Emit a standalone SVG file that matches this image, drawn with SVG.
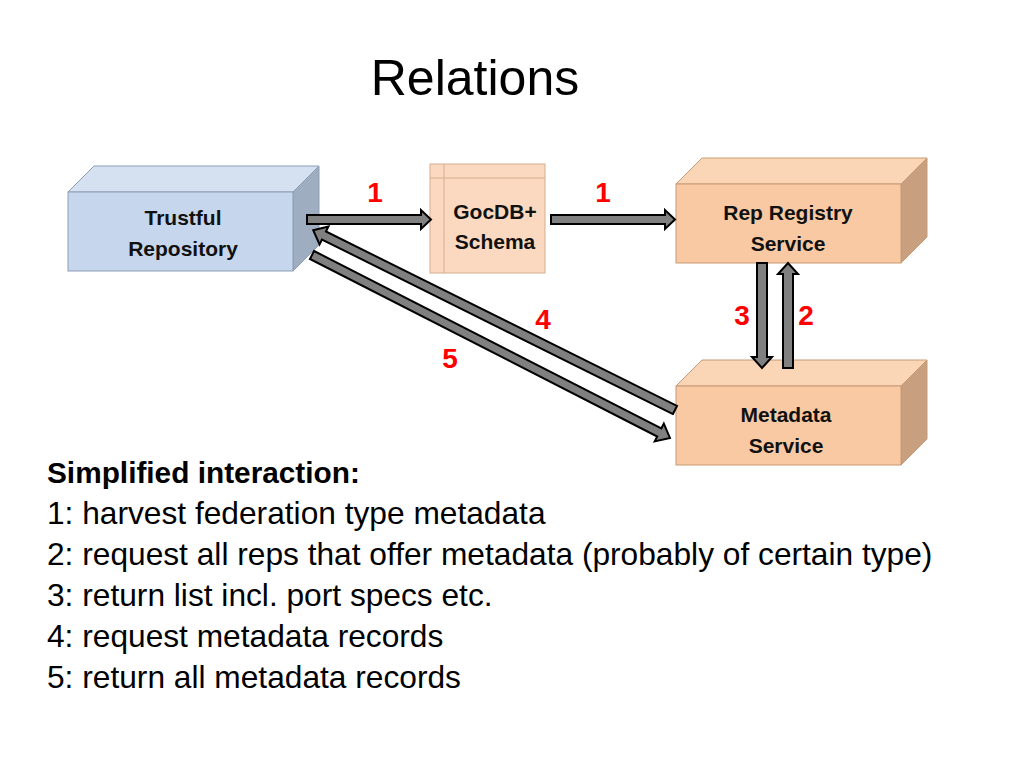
<svg xmlns="http://www.w3.org/2000/svg" width="1024" height="768" viewBox="0 0 1024 768">
<style>
.t{font-family:"Liberation Sans",Arial,sans-serif;fill:#000}
.lbl{font-family:"Liberation Sans",Arial,sans-serif;font-weight:bold;font-size:21px;text-anchor:middle;fill:#111}
.num{font-family:"Liberation Sans",Arial,sans-serif;font-weight:bold;font-size:28px;text-anchor:middle;fill:#ff0000}
.arr{fill:#808080;stroke:#000;stroke-width:2;stroke-linejoin:miter}
.bf{fill:#c6d6ec;stroke:#8d9db3;stroke-width:1}
.bt{fill:#d5e1f1;stroke:#8d9db3;stroke-width:1}
.bs{fill:#9fadc0;stroke:#8d9db3;stroke-width:1}
.pf{fill:#f8c9a2;stroke:#c79a76;stroke-width:1}
.pt{fill:#fad6b7;stroke:#c79a76;stroke-width:1}
.ps{fill:#c9a07f;stroke:#c79a76;stroke-width:1}
</style>
<rect width="1024" height="768" fill="#fff"/>
<text class="t" x="475" y="95" font-size="50" text-anchor="middle">Relations</text>

<g id="trustful">
<polygon class="bt" points="68,192 94,166 319,166 293,192"/>
<polygon class="bs" points="293,192 319,166 319,245 293,271"/>
<rect class="bf" x="68" y="192" width="225" height="79"/>
<text class="lbl" x="183" y="225">Trustful</text>
<text class="lbl" x="183" y="256">Repository</text>
</g>

<g id="gocdb">
<rect x="430" y="164" width="115" height="109" fill="#fad9c0" stroke="#d5ae8e" stroke-width="1"/>
<line x1="444" y1="164" x2="444" y2="273" stroke="#d5ae8e" stroke-width="1"/>
<line x1="430" y1="178" x2="545" y2="178" stroke="#d5ae8e" stroke-width="1"/>
<text class="lbl" x="495" y="219">GocDB+</text>
<text class="lbl" x="495" y="249">Schema</text>
</g>

<g id="repregistry">
<polygon class="pt" points="676,184 702,158 927,158 901,184"/>
<polygon class="ps" points="901,184 927,158 927,237 901,263"/>
<rect class="pf" x="676" y="184" width="225" height="79"/>
<text class="lbl" x="788" y="220">Rep Registry</text>
<text class="lbl" x="788" y="251">Service</text>
</g>

<g id="metadata">
<polygon class="pt" points="676,386 702,360 927,360 901,386"/>
<polygon class="ps" points="901,386 927,360 927,439 901,465"/>
<rect class="pf" x="676" y="386" width="225" height="79"/>
<text class="lbl" x="786" y="422">Metadata</text>
<text class="lbl" x="786" y="453">Service</text>
</g>

<g id="connectors">
<path class="arr" d="M307,215 L421,215 L421,210 L431,219.5 L421,229 L421,224 L307,224 Z"/>
<path class="arr" d="M551,215 L665,215 L665,210 L675,219.5 L665,229 L665,224 L551,224 Z"/>
<path class="arr" d="M757,263 L767,263 L767,357 L772,357 L762,368 L752,357 L757,357 Z"/>
<path class="arr" d="M783,368 L793,368 L793,274 L798,274 L788,263 L778,274 L783,274 Z"/>
<path class="arr" transform="translate(675,410) rotate(206.43)" d="M0,-4.5 L392,-4.5 L392,-10 L404,0 L392,10 L392,4.5 L0,4.5 Z"/>
<path class="arr" transform="translate(312,255) rotate(27.07)" d="M0,-4.5 L390,-4.5 L390,-10 L402,0 L390,10 L390,4.5 L0,4.5 Z"/>
<text class="num" x="375" y="202">1</text>
<text class="num" x="603" y="202">1</text>
<text class="num" x="543" y="329">4</text>
<text class="num" x="450" y="368">5</text>
<text class="num" x="742" y="325">3</text>
<text class="num" x="806" y="325">2</text>
</g>

<g id="legend" class="t" font-size="31.7">
<text x="47" y="483" font-weight="bold" font-size="29.8">Simplified interaction:</text>
<text x="47" y="524">1: harvest federation type metadata</text>
<text x="47" y="565">2: request all reps that offer metadata (probably of certain type)</text>
<text x="47" y="606">3: return list incl. port specs etc.</text>
<text x="47" y="647">4: request metadata records</text>
<text x="47" y="688">5: return all metadata records</text>
</g>
</svg>
